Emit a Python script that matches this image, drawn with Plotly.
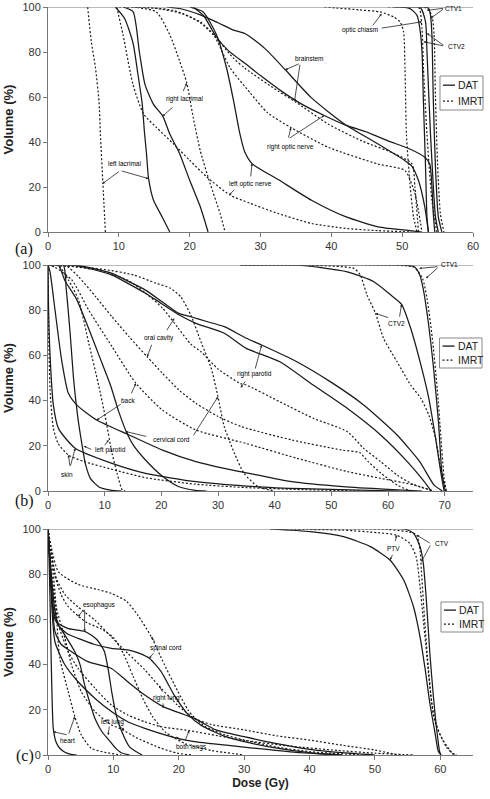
import plotly.graph_objects as go

# ---------------- Panel (a) data: dose (Gy) / volume (%) ----------------
a_left_lacrimal_dat_d = [9.5, 10.8, 12.0, 12.7, 13.3, 13.6, 13.9, 14.2, 14.9, 16.1, 17.2]
a_left_lacrimal_dat_v = [100, 95, 84, 70, 57, 45, 35, 23.7, 14.1, 6.8, 0]
a_left_lacrimal_imrt_d = [5.6, 6.1, 6.7, 7.2, 7.4, 7.75, 8.1]
a_left_lacrimal_imrt_v = [100, 85, 73, 58, 43.5, 21.5, 0]
a_right_lacrimal_dat_d = [10.6, 12.0, 12.9, 13.7, 14.9, 16.2, 17.2, 18.6, 20.0, 21.5, 22.6]
a_right_lacrimal_dat_v = [100, 97.9, 80, 65.5, 56.7, 51.5, 43.5, 34.7, 23, 11.2, 0]
a_right_lacrimal_imrt_d = [12.0, 15.3, 17.2, 18.6, 19.6, 20.5, 21.5, 22.9, 24.3, 25.0]
a_right_lacrimal_imrt_v = [100, 97.8, 87.6, 75.8, 66.2, 50.9, 36.1, 21.4, 8.2, 0]
a_left_optic_nerve_dat_d = [20.0, 21.9, 23.8, 25.2, 26.2, 27.1, 27.8, 28.8, 32.5, 37.2, 42.0, 46.6, 51.4, 52.8]
a_left_optic_nerve_dat_v = [100, 97.8, 87.6, 73, 58.3, 43.5, 35.4, 30.4, 23.3, 14.1, 6.8, 2.3, 0.5, 0]
a_left_optic_nerve_imrt_d = [9.7, 10.6, 12.0, 13.5, 15.3, 17.7, 20.0, 22.4, 25.7, 28.5, 32.5, 37.2, 42.0, 46.6, 51.4]
a_left_optic_nerve_imrt_v = [100, 87.6, 65.5, 52.4, 46.5, 39.2, 31.9, 24.5, 16.4, 12.8, 8.2, 3.8, 1.6, 0.6, 0]
a_right_optic_nerve_dat_d = [20.5, 22.0, 23.7, 25.5, 27.8, 30, 33, 36, 39, 42, 45.2, 48, 51, 53.2, 53.9, 54.2, 54.4, 54.6]
a_right_optic_nerve_dat_v = [100, 96, 87, 80.5, 75, 69.5, 62.5, 56.5, 51.8, 47.5, 44.2, 40.5, 37, 33.2, 30.2, 20, 8, 0]
a_right_optic_nerve_imrt_d = [12.9, 17.7, 21.5, 23.4, 25.7, 28.5, 31, 34.3, 39.6, 46.6, 50.4, 51.8, 52.8]
a_right_optic_nerve_imrt_v = [100, 98.5, 93.4, 87.6, 73, 62, 53, 46.4, 37.6, 30.2, 27.3, 17, 0]
a_brainstem_dat_d = [16.8, 19, 21.5, 24, 26.2, 27.8, 30.6, 33.5, 37.2, 41.9, 46.6, 50.4, 51.3, 52.3, 53.2, 53.7]
a_brainstem_dat_v = [100, 99, 96.5, 93, 89.7, 88.2, 81.6, 72.1, 59.6, 47.9, 39.1, 31.7, 29.5, 22.9, 11.1, 0]
a_brainstem_imrt_d = [10, 15, 19, 21.5, 23.4, 26.2, 27.8, 32.5, 34.8, 39.6, 44.3, 49.0, 51.4, 51.8, 52.3]
a_brainstem_imrt_v = [100, 99.5, 97, 93, 87.5, 77.2, 72.8, 62.6, 58.1, 47.9, 40.5, 34.7, 30.2, 20, 0]
a_optic_chiasm_dat_d = [48.8, 51.1, 52.1, 52.5, 52.8, 53.0, 53.3, 53.5, 53.7]
a_optic_chiasm_dat_v = [100, 99.3, 96.3, 90.4, 80.2, 58.1, 28.8, 6.8, 0]
a_optic_chiasm_imrt_d = [39, 44, 46.9, 48.8, 49.7, 50.2, 50.4, 50.6, 51.1, 51.6, 52.1]
a_optic_chiasm_imrt_v = [100, 98.7, 97.8, 95.6, 93.4, 89, 72.8, 43.5, 21.4, 6.8, 0]
a_ctv1_dat_d = [50, 53.0, 53.7, 54.0, 54.2, 54.4, 54.7, 55.1, 55.6]
a_ctv1_dat_v = [100, 100, 99.6, 96.3, 87.6, 58.3, 28.9, 6.8, 0]
a_ctv1_imrt_d = [48, 53.5, 54.2, 54.5, 54.7, 55.0, 55.4, 55.9]
a_ctv1_imrt_v = [100, 99.5, 96, 88, 60, 30, 8, 0]
a_ctv2_dat_d = [50, 52.5, 53.3, 53.5, 54.0, 54.7, 55.1]
a_ctv2_dat_v = [100, 100, 93.4, 80.2, 43.5, 6.8, 0]
a_ctv2_imrt_d = [49, 52.3, 52.8, 53.0, 53.5, 54.2, 54.9]
a_ctv2_imrt_v = [100, 100, 90.4, 73, 43.5, 14.1, 0]

# ---------------- Panel (b) data ----------------
b_ctv1_dat_d = [34, 61.6, 64.6, 65.6, 66.2, 67.1, 68.1, 68.9, 69.5, 70.1]
b_ctv1_dat_v = [100, 100, 99.3, 95.6, 89.7, 74.9, 52.8, 30.7, 8.6, 0]
b_ctv1_imrt_d = [34, 58.7, 64.6, 66.1, 66.9, 67.8, 68.7, 69.3, 69.9, 70.3]
b_ctv1_imrt_v = [100, 100, 99, 94, 85, 68, 45, 25, 6, 0]
b_ctv2_dat_d = [34, 43.9, 52.8, 57.5, 60.5, 62.4, 64, 65.8, 67.2, 68.4, 69.3, 69.9]
b_ctv2_dat_v = [100, 100, 97, 92.6, 86.7, 82.6, 72, 55.8, 41, 23.3, 8.6, 0]
b_ctv2_imrt_d = [34, 43.9, 54, 55.1, 56.3, 57.8, 59.2, 61.6, 64, 65.8, 67.2, 68.4, 69.3, 70.2]
b_ctv2_imrt_v = [100, 100, 98.5, 95.6, 86.7, 78.6, 67.6, 57.2, 46.9, 41, 33.6, 23.3, 10, 0]
b_right_parotid_dat_d = [0, 4, 6, 8, 11.3, 14, 17.2, 20, 23.1, 25.2, 28, 31.1, 35, 37.7, 43.9, 49.8, 55.7, 61.6, 65.6, 68.1, 69.6]
b_right_parotid_dat_v = [100, 100, 99.5, 98.5, 96.3, 93, 88.9, 84, 78.6, 77.1, 75, 72.7, 67.6, 64.6, 57.2, 48.4, 38.1, 24.8, 13, 2.7, 0]
b_right_parotid_imrt_d = [0, 4, 8, 11.3, 14.3, 17, 20.2, 23, 25.2, 27, 30, 34, 35, 40.9, 46.8, 52.8, 55.7, 58.7, 61.6, 64.6, 68.1]
b_right_parotid_imrt_v = [100, 99.5, 98, 96, 93, 88, 81, 72, 65, 61.6, 54, 47.5, 46.9, 39.5, 32.2, 26.3, 18.9, 13, 7.1, 2.7, 0]
b_oral_cavity_dat_d = [0, 3, 5.4, 8, 11.3, 14, 17.2, 20, 23.1, 26.1, 31.1, 35, 40.9, 46.8, 52.8, 58.7, 63.4, 66.4, 67.6]
b_oral_cavity_dat_v = [100, 100, 99.5, 98, 95.5, 92, 87.5, 83, 78, 74.2, 69.8, 63.1, 57.2, 46.9, 36.6, 24.8, 13, 4.1, 0]
b_oral_cavity_imrt_d = [0, 3, 5.4, 8.4, 11.3, 14.3, 17.5, 20.2, 23.1, 26.1, 30, 34.1, 43, 51.9, 55, 56.5, 58.7, 61.6, 64]
b_oral_cavity_imrt_v = [100, 100, 94.8, 86, 77.1, 68.3, 59.4, 52.1, 44.7, 38.8, 33, 28.5, 22.6, 18.1, 17, 13, 8, 2.7, 0]
b_cervical_cord_dat_d = [0, 1.8, 3.0, 5, 7, 9, 11, 12.5, 13.8, 15, 17.2, 20.2, 23, 26, 28]
b_cervical_cord_dat_v = [100, 100, 93, 85, 73, 60, 47, 35, 26.3, 20.5, 13.7, 6.5, 2, 0.3, 0]
b_cervical_cord_imrt_d = [0, 3.4, 10, 15.1, 19, 21.6, 23.4, 25.2, 27, 28.8, 30, 31.1, 32.9, 34.6, 37.1, 40]
b_cervical_cord_imrt_v = [100, 99.5, 98, 95.6, 92, 89.7, 86, 77.9, 66, 54.3, 41.7, 28.5, 16.7, 7.8, 1.9, 0]
b_back_dat_d = [0, 0.36, 1.24, 2.4, 3.6, 5.1, 8.6, 14.3, 20.2, 26.1, 31.1, 37.1, 43, 52, 60, 66]
b_back_dat_v = [100, 97, 80, 58, 43.2, 38, 31.4, 24.8, 18.1, 13, 10, 7, 4.1, 1.9, 0.7, 0]
b_back_imrt_d = [0, 1.2, 4.2, 7.2, 11.3, 15.5, 20.2, 26.1, 35, 43.9, 52.8, 58.7, 64.6, 68]
b_back_imrt_v = [100, 99, 93.4, 80, 63.9, 47.7, 35.8, 27, 21, 14.5, 8.6, 5.6, 2.7, 0]
b_left_parotid_dat_d = [0, 2.7, 3.2, 3.9, 4.5, 5.0, 5.4, 6.0, 6.6, 7.5, 9, 11, 13]
b_left_parotid_dat_v = [100, 100, 90, 70, 50, 38, 30, 20.5, 12, 5.5, 1.8, 0.4, 0]
b_left_parotid_imrt_d = [0, 1.8, 3.6, 5.4, 7.2, 9.0, 10.1, 11.3, 12.2, 13.1, 13.6]
b_left_parotid_imrt_v = [100, 100, 93.4, 84.5, 65.3, 46.1, 32.9, 16.7, 7.8, 0.5, 0]
b_skin_dat_d = [0, 0.1, 0.36, 0.95, 1.84, 4.8, 11.3, 17.2, 26.1, 35, 45, 55, 62]
b_skin_dat_v = [100, 80, 60, 38, 27.7, 18.9, 12.2, 7.8, 4.1, 2.2, 1, 0.4, 0]
b_skin_imrt_d = [0, 0.1, 0.36, 0.95, 1.8, 3.6, 6.4, 11.3, 17.2, 26.1, 35, 45, 55]
b_skin_imrt_v = [100, 75, 45, 27.7, 21, 15.9, 13, 9.6, 5.9, 3, 1.5, 0.6, 0]

# ---------------- Panel (c) data ----------------
c_ptv_dat_d = [34, 40.1, 45.2, 49.3, 52.3, 54.4, 55.9, 56.9, 57.7, 58.4, 59.2, 59.7, 60.1]
c_ptv_dat_v = [100, 98.8, 96.6, 92.2, 86.3, 77.4, 65.6, 52.3, 37.6, 22.9, 9.6, 1.5, 0]
c_ptv_imrt_d = [34, 45, 50.3, 53.3, 55.3, 56.3, 56.9, 57.4, 57.9, 58.4, 58.9, 59.4, 60.4, 61.9, 62.5]
c_ptv_imrt_v = [100, 99.5, 98.4, 97.3, 93.7, 87.8, 74.5, 59.7, 45, 30.2, 18.4, 12.5, 6.6, 0.7, 0]
c_ctv_dat_d = [40, 54.4, 55.9, 56.9, 57.4, 57.9, 58.4, 58.9, 59.4, 59.9, 60.1]
c_ctv_dat_v = [100, 100, 98.1, 92.2, 84.8, 67.1, 45, 27.3, 12.5, 1.5, 0]
c_ctv_imrt_d = [40, 52, 55.5, 56.4, 56.9, 57.1, 57.6, 58.2, 58.7, 59.2, 59.9, 60.9, 61.9, 62.5]
c_ctv_imrt_v = [100, 99.8, 98.5, 97.3, 90.7, 81.9, 59.7, 37.6, 22.9, 15.5, 9.6, 3.6, 0.5, 0]
c_esophagus_dat_d = [0, 0.3, 0.6, 1, 1.5, 3, 5.7, 7.5, 8.6, 9.2, 9.8, 10.5, 11.2, 12.5, 14.4]
c_esophagus_dat_v = [100, 85, 70, 62, 58.5, 56, 54.6, 51, 46, 38, 27, 17, 11, 3.5, 0]
c_esophagus_imrt_d = [0, 0.5, 1, 2, 3, 4.6, 6, 8, 10, 11.5, 13, 14.5, 16, 18, 21, 25, 30]
c_esophagus_imrt_v = [100, 90, 80, 71, 66, 61.5, 58.5, 56, 52, 45, 35, 25, 17, 10, 5, 2, 0]
c_spinal_cord_dat_d = [0, 0.5, 1, 1.6, 3, 4.6, 7, 9.7, 12.2, 14, 15.5, 17.3, 19.3, 21.4, 23.5, 27.2, 30, 35, 40, 45]
c_spinal_cord_dat_v = [100, 80, 65, 57.5, 53.5, 51.6, 49, 47.2, 46.5, 45, 42.8, 36.9, 26.5, 18, 13, 8.1, 5.9, 3, 1, 0]
c_spinal_cord_imrt_d = [0, 0.5, 1.6, 4.6, 7.9, 9.7, 12, 13.7, 15.8, 17.8, 19.8, 21.4, 22.4, 24.1, 27, 30, 35, 40, 48]
c_spinal_cord_imrt_v = [100, 92, 81, 75.5, 73, 71.5, 68, 62, 52.3, 40, 28.5, 20, 16.5, 12.5, 9, 6.6, 3.5, 1.5, 0]
c_right_lung_dat_d = [0, 0.3, 0.6, 1.07, 2, 3.6, 6.1, 9.7, 12.2, 14.8, 17.6, 22.4, 25.7, 30, 35, 40, 45, 50]
c_right_lung_dat_v = [100, 85, 70, 54.6, 49, 45.7, 41.3, 38.3, 32.4, 26.5, 21.4, 16.2, 11.1, 8.1, 5, 2.5, 1, 0]
c_right_lung_imrt_d = [0, 0.5, 1.3, 2.6, 4.6, 7.2, 9.7, 12.2, 14.8, 17, 19.8, 22.4, 25, 30, 35, 40, 45, 50, 53.5]
c_right_lung_imrt_v = [100, 90, 78, 71, 65.5, 59.6, 52.2, 45, 37.7, 30.5, 22.1, 16.2, 13.5, 11.1, 8.5, 6.6, 4.3, 2.2, 0]
c_left_lung_dat_d = [0, 0.3, 0.56, 1.07, 2.6, 4.1, 4.9, 5.6, 6.2, 7.2, 8.2, 9.2, 10.2, 11.2, 12.5]
c_left_lung_dat_v = [100, 85, 72, 60, 53, 45.7, 40, 31, 25, 16, 10.5, 7, 3.5, 1, 0]
c_left_lung_imrt_d = [0, 0.2, 0.56, 1.3, 2.6, 3.6, 5.1, 7.2, 9.7, 11.2, 13.7, 17.3, 19.8, 22]
c_left_lung_imrt_v = [100, 90, 79.6, 64.9, 51.6, 39.8, 28, 19.2, 13.3, 11.5, 7.4, 3, 0.8, 0]
c_both_lungs_dat_d = [0, 0.3, 0.6, 1.07, 2.6, 4.6, 7.2, 9.7, 12.2, 14.8, 19.8, 22.4, 30, 38, 45]
c_both_lungs_dat_v = [100, 85, 65, 50, 39.8, 32.4, 25, 19.2, 14.7, 11.8, 7.4, 5.9, 3.5, 1.2, 0]
c_both_lungs_imrt_d = [0, 0.3, 0.8, 1.6, 3.1, 4.6, 7.2, 9.7, 12.2, 14.8, 17.3, 21.6, 26, 30, 36.8, 44.4, 50, 56]
c_both_lungs_imrt_v = [100, 88, 72.3, 57.5, 45.7, 38.3, 29.5, 22.1, 17.7, 14.7, 12.5, 10.8, 8.5, 6.5, 4, 2, 0.8, 0]
c_heart_dat_d = [0, 0.15, 0.3, 0.45, 0.6, 0.8, 1.2, 1.8, 2.6, 3.5, 4.4]
c_heart_dat_v = [100, 88, 70, 48, 28, 12, 6, 3, 1.2, 0.3, 0]
c_heart_imrt_d = [0, 0.5, 1.07, 1.8, 3.1, 4.1, 5.1, 6.6, 8.7, 11.2]
c_heart_imrt_v = [100, 88, 72, 43, 28, 17, 8.8, 3, 1.2, 0]

# tick settings / axis ranges
dose_ticks_a = [0, 10, 20, 30, 40, 50, 60]
dose_ticks_b = [0, 10, 20, 30, 40, 50, 60, 70]
dose_ticks_c = [0, 10, 20, 30, 40, 50, 60]
volume_ticks = [0, 20, 40, 60, 80, 100]

panel_a = [
    ("left lacrimal", "DAT", a_left_lacrimal_dat_d, a_left_lacrimal_dat_v),
    ("left lacrimal", "IMRT", a_left_lacrimal_imrt_d, a_left_lacrimal_imrt_v),
    ("right lacrimal", "DAT", a_right_lacrimal_dat_d, a_right_lacrimal_dat_v),
    ("right lacrimal", "IMRT", a_right_lacrimal_imrt_d, a_right_lacrimal_imrt_v),
    ("left optic nerve", "DAT", a_left_optic_nerve_dat_d, a_left_optic_nerve_dat_v),
    ("left optic nerve", "IMRT", a_left_optic_nerve_imrt_d, a_left_optic_nerve_imrt_v),
    ("right optic nerve", "DAT", a_right_optic_nerve_dat_d, a_right_optic_nerve_dat_v),
    ("right optic nerve", "IMRT", a_right_optic_nerve_imrt_d, a_right_optic_nerve_imrt_v),
    ("brainstem", "DAT", a_brainstem_dat_d, a_brainstem_dat_v),
    ("brainstem", "IMRT", a_brainstem_imrt_d, a_brainstem_imrt_v),
    ("optic chiasm", "DAT", a_optic_chiasm_dat_d, a_optic_chiasm_dat_v),
    ("optic chiasm", "IMRT", a_optic_chiasm_imrt_d, a_optic_chiasm_imrt_v),
    ("CTV1", "DAT", a_ctv1_dat_d, a_ctv1_dat_v),
    ("CTV1", "IMRT", a_ctv1_imrt_d, a_ctv1_imrt_v),
    ("CTV2", "DAT", a_ctv2_dat_d, a_ctv2_dat_v),
    ("CTV2", "IMRT", a_ctv2_imrt_d, a_ctv2_imrt_v),
]
panel_b = [
    ("CTV1", "DAT", b_ctv1_dat_d, b_ctv1_dat_v),
    ("CTV1", "IMRT", b_ctv1_imrt_d, b_ctv1_imrt_v),
    ("CTV2", "DAT", b_ctv2_dat_d, b_ctv2_dat_v),
    ("CTV2", "IMRT", b_ctv2_imrt_d, b_ctv2_imrt_v),
    ("right parotid", "DAT", b_right_parotid_dat_d, b_right_parotid_dat_v),
    ("right parotid", "IMRT", b_right_parotid_imrt_d, b_right_parotid_imrt_v),
    ("oral cavity", "DAT", b_oral_cavity_dat_d, b_oral_cavity_dat_v),
    ("oral cavity", "IMRT", b_oral_cavity_imrt_d, b_oral_cavity_imrt_v),
    ("cervical cord", "DAT", b_cervical_cord_dat_d, b_cervical_cord_dat_v),
    ("cervical cord", "IMRT", b_cervical_cord_imrt_d, b_cervical_cord_imrt_v),
    ("back", "DAT", b_back_dat_d, b_back_dat_v),
    ("back", "IMRT", b_back_imrt_d, b_back_imrt_v),
    ("left parotid", "DAT", b_left_parotid_dat_d, b_left_parotid_dat_v),
    ("left parotid", "IMRT", b_left_parotid_imrt_d, b_left_parotid_imrt_v),
    ("skin", "DAT", b_skin_dat_d, b_skin_dat_v),
    ("skin", "IMRT", b_skin_imrt_d, b_skin_imrt_v),
]
panel_c = [
    ("PTV", "DAT", c_ptv_dat_d, c_ptv_dat_v),
    ("PTV", "IMRT", c_ptv_imrt_d, c_ptv_imrt_v),
    ("CTV", "DAT", c_ctv_dat_d, c_ctv_dat_v),
    ("CTV", "IMRT", c_ctv_imrt_d, c_ctv_imrt_v),
    ("esophagus", "DAT", c_esophagus_dat_d, c_esophagus_dat_v),
    ("esophagus", "IMRT", c_esophagus_imrt_d, c_esophagus_imrt_v),
    ("spinal cord", "DAT", c_spinal_cord_dat_d, c_spinal_cord_dat_v),
    ("spinal cord", "IMRT", c_spinal_cord_imrt_d, c_spinal_cord_imrt_v),
    ("right lung", "DAT", c_right_lung_dat_d, c_right_lung_dat_v),
    ("right lung", "IMRT", c_right_lung_imrt_d, c_right_lung_imrt_v),
    ("left lung", "DAT", c_left_lung_dat_d, c_left_lung_dat_v),
    ("left lung", "IMRT", c_left_lung_imrt_d, c_left_lung_imrt_v),
    ("both lungs", "DAT", c_both_lungs_dat_d, c_both_lungs_dat_v),
    ("both lungs", "IMRT", c_both_lungs_imrt_d, c_both_lungs_imrt_v),
    ("heart", "DAT", c_heart_dat_d, c_heart_dat_v),
    ("heart", "IMRT", c_heart_imrt_d, c_heart_imrt_v),
]

# ---------------- labels (text, dose, volume) and pointer arrows ----------------
labels_a = [("left lacrimal", 10.8, 30.5), ("right lacrimal", 19.2, 59.2),
            ("left optic nerve", 28.6, 21.5), ("right optic nerve", 34.3, 37.6),
            ("brainstem", 36.9, 77.2), ("optic chiasm", 44.1, 89.7),
            ("CTV1", 57.3, 99.5), ("CTV2", 57.6, 82.4)]
arrows_a = [(10.2, 27.3, 7.7, 21.5), (10.2, 27.3, 14.2, 23.7),
            (17.8, 56, 16.2, 51.5), (19.0, 62, 19.6, 66.2),
            (26.5, 19.5, 25.6, 16.4), (28.6, 24, 28.8, 30.4),
            (33.9, 41.3, 34.3, 46.4), (33.9, 41.3, 39, 51.8),
            (35.6, 75, 33.5, 72.1), (35.6, 75, 34.8, 58.1),
            (45.7, 91.2, 47.1, 97), (46.9, 90.5, 52.8, 93.4),
            (56, 99.5, 53.5, 98.5), (56, 99.5, 54.0, 94.9),
            (56, 82.6, 53.5, 88.3), (56, 82.6, 53.0, 84.6)]
labels_b = [("CTV1", 70.9, 100), ("CTV2", 61.5, 74.2), ("oral cavity", 19.6, 67.8),
            ("right parotid", 36.5, 51.6), ("back", 14.1, 40), ("cervical cord", 21.8, 23),
            ("left parotid", 11, 18.1), ("skin", 3.3, 7.1)]
arrows_b = [(69.0, 99.3, 65.5, 98.5), (69.0, 99.3, 66.7, 94.1),
            (60.3, 76.5, 57.8, 78.6), (62, 76.5, 62.4, 82.6),
            (20.8, 70.5, 22.3, 76.4), (18.4, 65.4, 17.5, 59.4),
            (36.5, 53.5, 37.7, 64.6), (35, 49.1, 34, 45.7),
            (13.1, 38.8, 8.6, 31.4), (14.6, 42.5, 15.5, 47.7),
            (17.6, 24, 13.7, 26.3), (25.5, 24, 30, 41.7),
            (7.9, 18.1, 6.3, 19.9), (9.8, 19.6, 10.7, 22.6),
            (3.9, 10.5, 3.6, 15.9), (3.9, 10.5, 4.8, 18.9)]
labels_c = [("PTV", 52.9, 91.5), ("CTV", 60.2, 93.4), ("esophagus", 7.8, 66.4),
            ("spinal cord", 18.1, 47.5), ("right lung", 18.1, 25.4), ("left lung", 9.8, 14.7),
            ("both lungs", 22, 3.7), ("heart", 3, 6.6)]
arrows_c = [(52.8, 89.2, 52.3, 86.3), (53.1, 94, 53.3, 97.3),
            (58.6, 93.4, 56.4, 97.3), (58.6, 93.4, 57.1, 85.5),
            (5.6, 64.9, 4.6, 61.2), (5.6, 64.9, 5.6, 54.6),
            (16.5, 49.4, 15.8, 52.3), (16.3, 45.7, 15.5, 42.8),
            (17.6, 27.3, 17, 30.7), (17.6, 23.5, 17.6, 20.7),
            (9.4, 13.3, 9.2, 8.8), (10.6, 13.3, 11.7, 11.1),
            (20.6, 5.9, 19.6, 8.1), (20.9, 5.9, 21.6, 10.8),
            (3.1, 8.8, 0.8, 10.3), (3.1, 8.8, 4.1, 17)]

# ---------------- figure ----------------
W, H = 490, 799
INK = "#1a1a1a"
AXC = "#777777"

def py(p):
    return 1 - p / H

fig = go.Figure()

panels = [
    (panel_a, "x", "y", labels_a, arrows_a),
    (panel_b, "x2", "y2", labels_b, arrows_b),
    (panel_c, "x3", "y3", labels_c, arrows_c),
]

annotations = []
shapes = []
for curves, xa, ya, labels, arrows in panels:
    for structure, plan, d, v in curves:
        fig.add_trace(go.Scatter(
            x=d, y=v, mode="lines", name=f"{structure} ({plan})",
            xaxis=xa, yaxis=ya, showlegend=False, hoverinfo="name",
            line=dict(color=INK, width=1.25 if plan == "DAT" else 1.2,
                      dash="solid" if plan == "DAT" else "2px,2px",
                      shape="spline", smoothing=0.6)))
    for text, x, y in labels:
        annotations.append(dict(x=x, y=y, xref=xa, yref=ya, text=text, showarrow=False,
                                font=dict(family="Arial", size=6.5, color="#000")))
    for tx, ty, hx, hy in arrows:
        annotations.append(dict(x=hx, y=hy, ax=tx, ay=ty, xref=xa, yref=ya,
                                axref=xa, ayref=ya, text="", showarrow=True,
                                arrowhead=2, arrowsize=0.6, arrowwidth=0.8,
                                arrowcolor="#222", standoff=0, startstandoff=0))
    # top border line at 100 %
    shapes.append(dict(type="line", xref=f"{xa} domain", yref=ya, x0=0, x1=1, y0=100, y1=100,
                       line=dict(color=AXC, width=1)))

# manual legends (DAT / IMRT) per panel: (left, top, right, bottom) in px
legend_boxes = [(440, 76, 483, 110), (439.5, 338, 482, 368), (441, 602, 483, 632)]
for (l, t, r, b) in legend_boxes:
    shapes.append(dict(type="rect", xref="paper", yref="paper", x0=l / W, x1=r / W,
                       y0=py(b), y1=py(t), line=dict(color="#888", width=1), fillcolor="white",
                       layer="above"))
    rows = [t + (b - t) * 0.27, t + (b - t) * 0.74]
    for ry, plan in zip(rows, ["DAT", "IMRT"]):
        shapes.append(dict(type="line", xref="paper", yref="paper", x0=(l + 3) / W, x1=(l + 15) / W,
                           y0=py(ry), y1=py(ry), layer="above",
                           line=dict(color=INK, width=1.3, dash="solid" if plan == "DAT" else "2px,2px")))
        annotations.append(dict(x=(l + 16) / W, y=py(ry), xref="paper", yref="paper", text=plan,
                                showarrow=False, xanchor="left", yanchor="middle",
                                font=dict(family="Arial", size=10.5, color="#222")))

# panel letters
for txt, xp, yp in [("(a)", 13, 238), ("(b)", 13, 501), ("(c)", 14, 767)]:
    annotations.append(dict(x=xp / W, y=py(yp), xref="paper", yref="paper", text=txt,
                            showarrow=False, font=dict(family="Liberation Serif", size=16, color="#111")))

axis_common = dict(showline=True, linecolor=AXC, linewidth=1, ticks="outside", ticklen=4,
                   tickcolor=AXC, showgrid=False, zeroline=False, automargin=False,
                   tickfont=dict(family="Arial", size=11, color="#333"))
xdom = [48 / W, 473 / W]
ytitle = dict(text="Volume (%)", font=dict(family="Arial", size=13, color="#222", weight="bold"),
              standoff=5)

fig.update_layout(
    width=W, height=H, margin=dict(l=0, r=0, t=0, b=0, autoexpand=False),
    paper_bgcolor="white", plot_bgcolor="white", showlegend=False,
    xaxis=dict(domain=xdom, anchor="y", range=[0, 60], tickvals=dose_ticks_a, **axis_common),
    yaxis=dict(domain=[py(232), py(7)], anchor="x", range=[0, 100], tickvals=volume_ticks,
               title=ytitle, **axis_common),
    xaxis2=dict(domain=xdom, anchor="y2", range=[0, 75], tickvals=dose_ticks_b, **axis_common),
    yaxis2=dict(domain=[py(491), py(265)], anchor="x2", range=[0, 100], tickvals=volume_ticks,
                title=ytitle, **axis_common),
    xaxis3=dict(domain=xdom, anchor="y3", range=[0, 65], tickvals=dose_ticks_c,
                title=dict(text="Dose (Gy)", font=dict(family="Arial", size=12, color="#222", weight="bold"),
                           standoff=4),
                **axis_common),
    yaxis3=dict(domain=[py(755), py(529)], anchor="x3", range=[0, 100], tickvals=volume_ticks,
                title=ytitle, **axis_common),
    annotations=annotations, shapes=shapes,
)

fig.write_html("out.html", config={"displayModeBar": False},
               post_script="document.body.style.margin='0';document.body.style.overflow='hidden';")
